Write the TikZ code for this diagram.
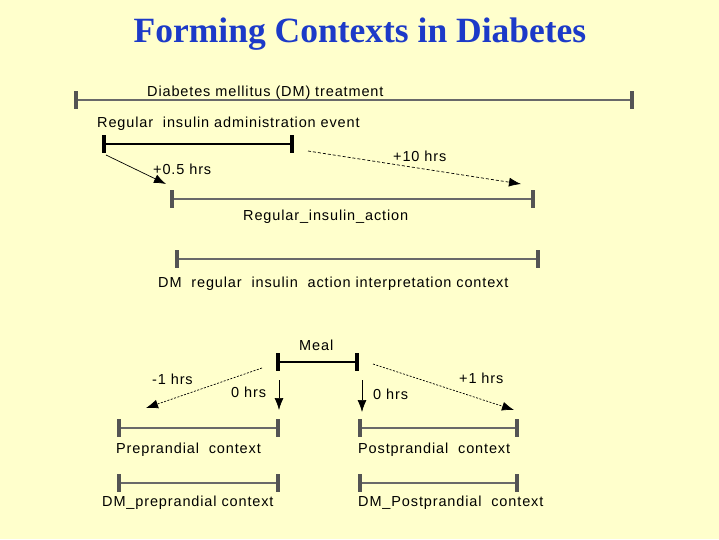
\documentclass[tikz,border=0pt]{standalone}
\usepackage{fontspec}
\setmainfont{Liberation Serif}
\newfontfamily\labfont[LetterSpace=6]{Liberation Sans}
\usetikzlibrary{arrows.meta,calc}
\definecolor{bgyellow}{RGB}{255,255,204}
\definecolor{titleblue}{RGB}{28,58,200}
\definecolor{bargray}{RGB}{105,105,105}
\newcommand\ginterval[4]{%
  \coordinate (#1L) at (#2,#4); \coordinate (#1R) at (#3,#4);
  \draw[grayline] (#1L) -- (#1R);
  \draw[graytick] ([yshift=9pt]#1L) -- ([yshift=-9pt]#1L);
  \draw[graytick] ([yshift=9pt]#1R) -- ([yshift=-9pt]#1R);}
\newcommand\binterval[4]{%
  \coordinate (#1L) at (#2,#4); \coordinate (#1R) at (#3,#4);
  \draw[blackline] (#1L) -- (#1R);
  \draw[blacktick] ([yshift=9pt]#1L) -- ([yshift=-9pt]#1L);
  \draw[blacktick] ([yshift=9pt]#1R) -- ([yshift=-9pt]#1R);}
\begin{document}
\begin{tikzpicture}[x=1pt,y=-1pt,
  lab/.style={inner sep=0pt,anchor=west,yshift=-1.5pt,font=\labfont\fontsize{14.5}{16}\selectfont,text=black},
  grayline/.style={draw=bargray,line width=2.4pt},
  graytick/.style={draw=bargray!80!black,line width=3.4pt},
  blackline/.style={draw=black,line width=2.6pt},
  blacktick/.style={draw=black,line width=3.2pt},
  arr/.style={draw=black,line width=0.7pt,-{Latex[length=12pt,width=9pt]}},
  darr/.style={arr,dash pattern=on 3pt off 2pt},
  darr2/.style={arr,dash pattern=on 2pt off 1.5pt}]
\fill[bgyellow] (0,0) rectangle (719,539);
\useasboundingbox (0,0) rectangle (719,539);
\node[font=\bfseries\fontsize{35.5}{40}\selectfont,text=titleblue] (title) at (360,34) {Forming Contexts in Diabetes};
% DM treatment
\ginterval{dmt}{76}{632}{100}
\node[lab] (ldmt) at (147,91) {Diabetes mellitus (DM) treatment};
% insulin administration event
\node[lab] (lrie) at (97,122) {Regular\ \ insulin administration event};
\binterval{rie}{104}{292}{144}
% regular insulin action
\ginterval{ria}{172}{533}{199}
\node[lab] (lria) at (243,215) {Regular\_insulin\_action};
\coordinate (a1s) at (106,155); \coordinate (a1e) at (166,184);
\draw[arr] (a1s) -- (a1e);
\node[lab] (l05) at (153,168) {+0.5 hrs};
\coordinate (a2s) at (308,151); \coordinate (a2e) at (521,184);
\draw[darr] (a2s) -- (a2e);
\node[lab] (l10) at (393,155) {+10 hrs};
% interpretation context
\ginterval{dic}{177}{538}{259}
\node[lab] (ldic) at (158,282) {DM\ \ regular\ \ insulin\ \ action interpretation context};
% meal
\node[lab] (lmeal) at (299,344) {Meal};
\binterval{meal}{278}{357}{362}
\coordinate (m1s) at (262,368); \coordinate (m1e) at (146,408);
\draw[darr2] (m1s) -- (m1e);
\node[lab] (lm1) at (152,378) {-1 hrs};
\coordinate (m2s) at (279,380); \coordinate (m2e) at (279,410);
\draw[arr] (m2s) -- (m2e);
\node[lab] (lm2) at (231,391) {0 hrs};
\coordinate (m3s) at (362,380); \coordinate (m3e) at (362,412);
\draw[arr] (m3s) -- (m3e);
\node[lab] (lm3) at (373,393) {0 hrs};
\coordinate (m4s) at (373,364); \coordinate (m4e) at (514,410);
\draw[darr2] (m4s) -- (m4e);
\node[lab] (lm4) at (459,377) {+1 hrs};
% contexts
\ginterval{pre}{119}{278}{428}
\node[lab] (lpre) at (116,448) {Preprandial\ \ context};
\ginterval{post}{360}{517}{428}
\node[lab] (lpost) at (358,448) {Postprandial\ \ context};
\ginterval{dpre}{119}{278}{483}
\node[lab] (ldpre) at (102,501) {DM\_preprandial context};
\ginterval{dpost}{360}{517}{483}
\node[lab] (ldpost) at (358,501) {DM\_Postprandial\ \ context};
\end{tikzpicture}
\end{document}
